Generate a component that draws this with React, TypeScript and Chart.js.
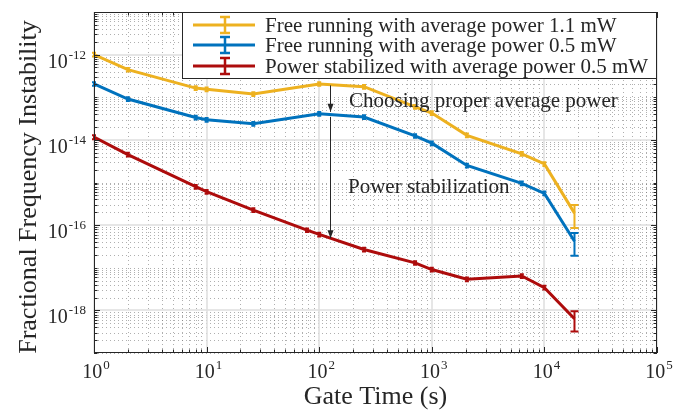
import { useEffect, useRef } from "react";
import { Chart, registerables } from "chart.js";

Chart.register(...registerables);

// Gate times (s) for the free-running curves and for the stabilized curve
const tauFree = [1, 2, 8, 10, 26, 100, 250, 710, 1000, 2050, 6300, 10000, 18500];
const tauStab = [1, 2, 8, 10, 26, 78, 100, 250, 710, 1000, 2050, 6300, 10000, 18500];

// Fractional frequency instability (Allan deviation)
const free11mW = [1.0e-12, 4.44e-13, 1.64e-13, 1.54e-13, 1.19e-13, 2.05e-13, 1.77e-13, 5.97e-14, 4.25e-14, 1.28e-14, 4.69e-15, 2.72e-15, 1.91e-16];
const free05mW = [2.05e-13, 9.08e-14, 3.35e-14, 2.96e-14, 2.38e-14, 4.09e-14, 3.44e-14, 1.24e-14, 8.36e-15, 2.51e-15, 9.57e-16, 5.57e-16, 4.2e-17];
const stab05mW = [1.16e-14, 4.51e-15, 7.96e-16, 6.08e-16, 2.25e-16, 7.62e-17, 6.04e-17, 2.68e-17, 1.3e-17, 9.08e-18, 5.36e-18, 6.41e-18, 3.42e-18, 6.38e-19];

// One-sigma uncertainties
const free11mWErr = [1.0e-13, 4.4e-14, 1.6e-14, 1.5e-14, 1.2e-14, 2.0e-14, 1.8e-14, 6.0e-15, 4.3e-15, 1.3e-15, 4.7e-16, 2.7e-16, 1.05e-16];
const free05mWErr = [2.0e-14, 9.0e-15, 3.3e-15, 3.0e-15, 2.4e-15, 4.1e-15, 3.4e-15, 1.2e-15, 8.4e-16, 2.5e-16, 9.6e-17, 5.6e-17, 2.3e-17];
const stab05mWErr = [1.2e-15, 4.5e-16, 8.0e-17, 6.1e-17, 2.3e-17, 7.6e-18, 6.0e-18, 2.7e-18, 1.3e-18, 9.1e-19, 5.4e-19, 6.4e-19, 3.4e-19, 3.2e-19];

const seriesLabels = [
  "Free running with average power 1.1 mW",
  "Free running with average power 0.5 mW",
  "Power stabilized with average power 0.5 mW",
];
const seriesColors = ["#EDB120", "#0072BD", "#AD0C0C"];

// Axis ticks (decade exponents)
const xTickExponents = [0, 1, 2, 3, 4, 5];
const yTickExponents = [-18, -16, -14, -12];

const xTitle = "Gate Time (s)";
const yTitle = "Fractional Frequency Instability";
const noteChoosing = "Choosing proper average power";
const noteStabilization = "Power stabilization";
// Gate time at which the two arrows are drawn
const arrowTau = 125;

const SERIF = "'Liberation Serif', 'Times New Roman', serif";

function toPoints(xs: number[], ys: number[]) {
  return xs.map((x, i) => ({ x, y: ys[i] }));
}

function drawPow(ctx: CanvasRenderingContext2D, exp: number, x: number, y: number, align: "right" | "center") {
  const base = "10";
  const sup = exp < 0 ? "-" + Math.abs(exp) : String(exp);
  ctx.font = `20px ${SERIF}`;
  const wb = ctx.measureText(base).width;
  ctx.font = `13px ${SERIF}`;
  const ws = ctx.measureText(sup).width;
  const total = wb + ws + 1;
  const left = align === "right" ? x - total : x - total / 2;
  ctx.fillStyle = "#262626";
  ctx.textAlign = "left";
  ctx.textBaseline = "alphabetic";
  ctx.font = `20px ${SERIF}`;
  ctx.fillText(base, left, y);
  ctx.font = `13px ${SERIF}`;
  ctx.fillText(sup, left + wb + 1, y - 9);
}

const framePlugin = {
  id: "frame",
  beforeDatasetsDraw(chart: any) {
    const { ctx, chartArea: a } = chart;
    const xs = chart.scales.x;
    const ys = chart.scales.y;
    ctx.save();
    ctx.fillStyle = "#ffffff";
    ctx.fillRect(a.left, a.top, a.right - a.left, a.bottom - a.top);
    // minor grid (dotted)
    ctx.strokeStyle = "rgba(110,110,110,0.55)";
    ctx.lineWidth = 1;
    ctx.setLineDash([1, 3]);
    for (let e = 0; e < 5; e++) {
      for (let m = 2; m <= 9; m++) {
        const px = Math.round(xs.getPixelForValue(m * Math.pow(10, e))) + 0.5;
        ctx.beginPath();
        ctx.moveTo(px, a.top);
        ctx.lineTo(px, a.bottom);
        ctx.stroke();
      }
    }
    for (let e = -19; e < -11; e++) {
      for (let m = 1; m <= 9; m++) {
        if (m === 1 && e % 2 === 0) continue;
        const py = Math.round(ys.getPixelForValue(m * Math.pow(10, e))) + 0.5;
        ctx.beginPath();
        ctx.moveTo(a.left, py);
        ctx.lineTo(a.right, py);
        ctx.stroke();
      }
    }
    // major grid
    ctx.setLineDash([]);
    ctx.strokeStyle = "#dedede";
    ctx.lineWidth = 1.5;
    for (const e of xTickExponents) {
      const px = Math.round(xs.getPixelForValue(Math.pow(10, e)));
      ctx.beginPath();
      ctx.moveTo(px, a.top);
      ctx.lineTo(px, a.bottom);
      ctx.stroke();
    }
    for (const e of yTickExponents) {
      const py = Math.round(ys.getPixelForValue(Math.pow(10, e)));
      ctx.beginPath();
      ctx.moveTo(a.left, py);
      ctx.lineTo(a.right, py);
      ctx.stroke();
    }
    ctx.restore();
  },
  afterDatasetsDraw(chart: any) {
    const { ctx, chartArea: a } = chart;
    const xs = chart.scales.x;
    const ys = chart.scales.y;
    const errs = [free11mWErr, free05mWErr, stab05mWErr];
    ctx.save();

    // error bars
    chart.data.datasets.forEach((ds: any, di: number) => {
      ctx.strokeStyle = ds.borderColor;
      ctx.lineWidth = 2;
      ds.data.forEach((p: any, i: number) => {
        const s = errs[di][i];
        const px = xs.getPixelForValue(p.x);
        const top = ys.getPixelForValue(p.y + s);
        const bot = ys.getPixelForValue(p.y - s);
        const cap = i === ds.data.length - 1 ? 4 : 2;
        ctx.beginPath();
        ctx.moveTo(px, top);
        ctx.lineTo(px, bot);
        ctx.moveTo(px - cap, top);
        ctx.lineTo(px + cap, top);
        ctx.moveTo(px - cap, bot);
        ctx.lineTo(px + cap, bot);
        ctx.stroke();
      });
    });

    // annotation arrows
    const ax = Math.round(xs.getPixelForValue(arrowTau)) + 0.5;
    const yTop = ys.getPixelForValue(1.9e-13);
    const yMid = ys.getPixelForValue(4.3e-14);
    const yBot = ys.getPixelForValue(4.9e-17);
    ctx.strokeStyle = "#262626";
    ctx.fillStyle = "#262626";
    ctx.lineWidth = 1;
    const arrow = (y0: number, y1: number) => {
      ctx.beginPath();
      ctx.moveTo(ax, y0);
      ctx.lineTo(ax, y1);
      ctx.stroke();
      ctx.beginPath();
      ctx.moveTo(ax, y1);
      ctx.lineTo(ax - 3, y1 - 8);
      ctx.lineTo(ax + 3, y1 - 8);
      ctx.closePath();
      ctx.fill();
    };
    arrow(yTop, yMid - 1);
    arrow(yMid + 4, yBot);

    ctx.font = `21px ${SERIF}`;
    ctx.textAlign = "left";
    ctx.textBaseline = "middle";
    ctx.fillStyle = "#262626";
    ctx.fillText(noteChoosing, 349, 101);
    ctx.fillText(noteStabilization, 348, 187);

    // axes box
    ctx.strokeStyle = "#262626";
    ctx.lineWidth = 1;
    ctx.strokeRect(a.left + 0.5, a.top + 0.5, a.right - a.left - 1, a.bottom - a.top - 1);

    // tick marks (inward, both sides)
    const tick = (x0: number, y0: number, x1: number, y1: number) => {
      ctx.beginPath();
      ctx.moveTo(x0, y0);
      ctx.lineTo(x1, y1);
      ctx.stroke();
    };
    for (let e = 0; e <= 5; e++) {
      for (let m = 1; m <= 9; m++) {
        const v = m * Math.pow(10, e);
        if (v > 1e5) break;
        const px = Math.round(xs.getPixelForValue(v)) + 0.5;
        const len = m === 1 ? 6 : 3.5;
        tick(px, a.bottom, px, a.bottom - len);
        tick(px, a.top, px, a.top + len);
      }
    }
    for (let e = -19; e <= -11; e++) {
      for (let m = 1; m <= 9; m++) {
        const v = m * Math.pow(10, e);
        if (v > 1e-11 * 1.0001) break;
        const py = Math.round(ys.getPixelForValue(v)) + 0.5;
        const len = m === 1 && e % 2 === 0 ? 6 : 3.5;
        tick(a.left, py, a.left + len, py);
        tick(a.right, py, a.right - len, py);
      }
    }

    // tick labels
    for (const e of xTickExponents) {
      drawPow(ctx, e, xs.getPixelForValue(Math.pow(10, e)) + 2, a.bottom + 25, "center");
    }
    for (const e of yTickExponents) {
      drawPow(ctx, e, a.left - 8, ys.getPixelForValue(Math.pow(10, e)) + 13, "right");
    }

    // axis titles
    ctx.fillStyle = "#262626";
    ctx.font = `26px ${SERIF}`;
    ctx.textAlign = "center";
    ctx.textBaseline = "middle";
    ctx.fillText(xTitle, (a.left + a.right) / 2, 397);
    ctx.save();
    ctx.translate(29, 187);
    ctx.rotate(-Math.PI / 2);
    ctx.fillText(yTitle, 0, 0);
    ctx.restore();

    // legend
    const lx0 = 182;
    const ly0 = a.top;
    const lx1 = a.right;
    const ly1 = 79;
    ctx.fillStyle = "#ffffff";
    ctx.fillRect(lx0, ly0, lx1 - lx0, ly1 - ly0);
    ctx.strokeStyle = "#262626";
    ctx.lineWidth = 1;
    ctx.strokeRect(lx0 + 0.5, ly0 + 0.5, lx1 - lx0 - 1, ly1 - ly0 - 1);
    const rows = [25, 45, 66];
    chart.data.datasets.forEach((ds: any, di: number) => {
      const y = rows[di];
      ctx.strokeStyle = ds.borderColor;
      ctx.lineWidth = 3;
      ctx.beginPath();
      ctx.moveTo(193, y);
      ctx.lineTo(255, y);
      ctx.stroke();
      ctx.lineWidth = 2.5;
      ctx.beginPath();
      ctx.moveTo(225, y - 8);
      ctx.lineTo(225, y + 8);
      ctx.moveTo(220, y - 8);
      ctx.lineTo(230, y - 8);
      ctx.moveTo(220, y + 8);
      ctx.lineTo(230, y + 8);
      ctx.stroke();
      ctx.fillStyle = "#262626";
      ctx.font = `21px ${SERIF}`;
      ctx.textAlign = "left";
      ctx.textBaseline = "middle";
      ctx.fillText(ds.label, 265, y + 1);
    });
    ctx.restore();
  },
};

export default function App() {
  const canvasRef = useRef<HTMLCanvasElement | null>(null);

  useEffect(() => {
    if (!canvasRef.current) return;
    const mk = (label: string, xs: number[], ys: number[], color: string) => ({
      label,
      data: toPoints(xs, ys),
      borderColor: color,
      backgroundColor: color,
      borderWidth: 3,
      pointRadius: 0,
      tension: 0,
      fill: false,
    });
    const chart = new Chart(canvasRef.current, {
      type: "line",
      data: {
        datasets: [
          mk(seriesLabels[0], tauFree, free11mW, seriesColors[0]),
          mk(seriesLabels[1], tauFree, free05mW, seriesColors[1]),
          mk(seriesLabels[2], tauStab, stab05mW, seriesColors[2]),
        ],
      },
      options: {
        animation: false,
        responsive: false,
        maintainAspectRatio: false,
        layout: { padding: { left: 94, top: 12, right: 24, bottom: 57 } },
        plugins: { legend: { display: false }, tooltip: { enabled: false } },
        scales: {
          x: { type: "logarithmic", min: 1, max: 1e5, display: false },
          y: { type: "logarithmic", min: 1e-19, max: 1e-11, display: false },
        },
      },
      plugins: [framePlugin],
    });
    return () => chart.destroy();
  }, []);

  return (
    <div style={{ position: "fixed", left: 0, top: 0, width: 681, height: 410, background: "#fff" }}>
      <canvas ref={canvasRef} width={681} height={410} />
    </div>
  );
}
